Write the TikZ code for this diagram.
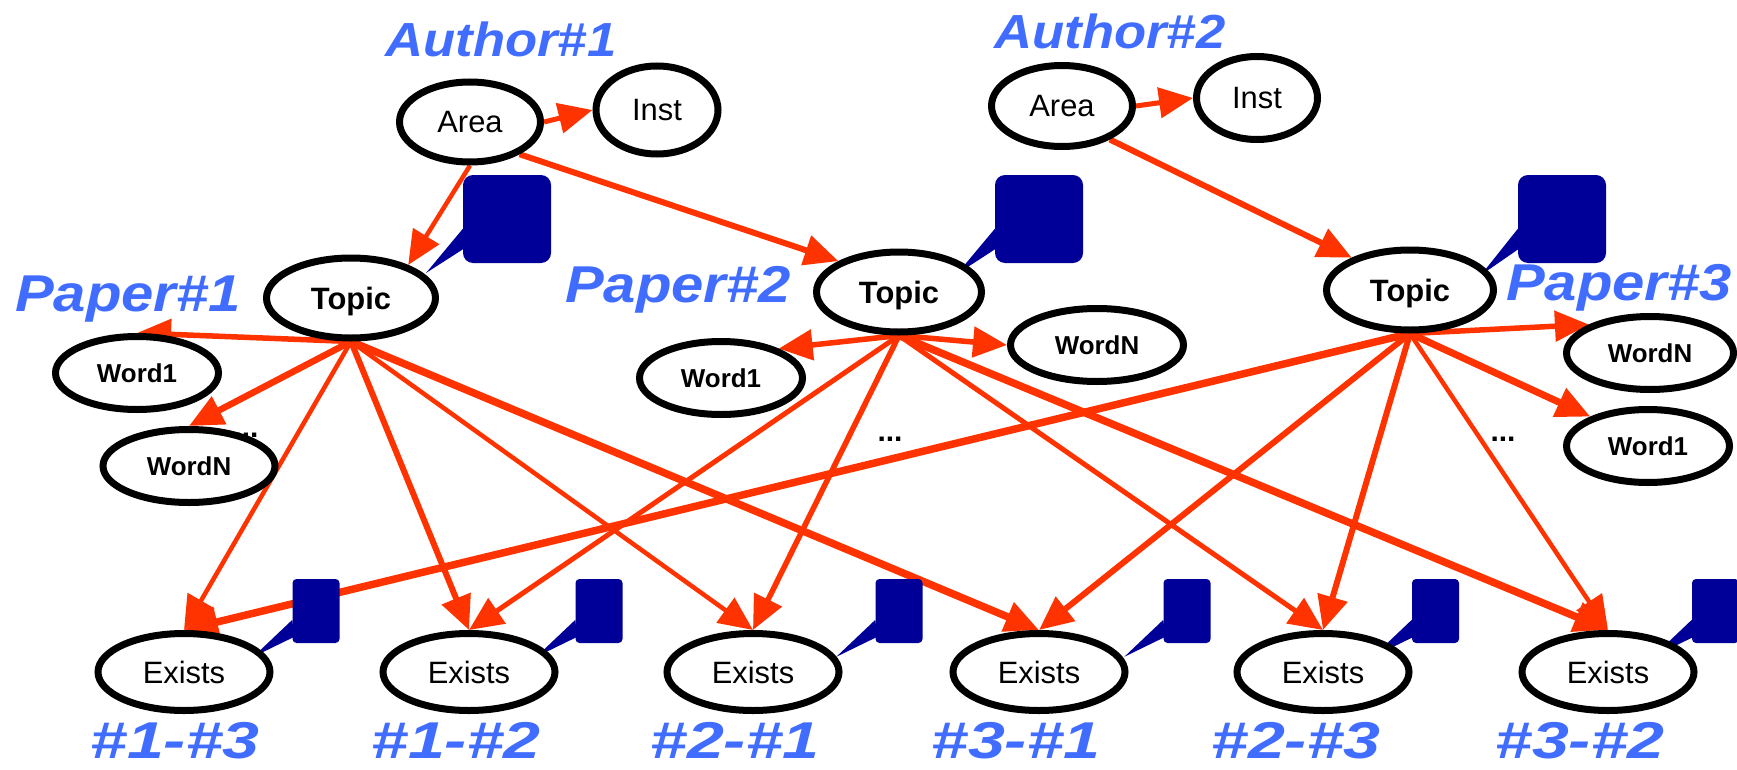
\documentclass[tikz,border=0pt]{standalone}
\usepackage{fontspec}
\setmainfont{Liberation Sans}
\usepackage{graphicx}
\usetikzlibrary{arrows.meta,shapes.geometric,calc}
\pgfdeclarelayer{bg}
\pgfdeclarelayer{mid}
\pgfsetlayers{bg,mid,main}
\definecolor{arr}{RGB}{255,51,0}
\definecolor{bx}{RGB}{0,0,153}
\definecolor{lbl}{RGB}{64,108,255}
\begin{document}
\begin{tikzpicture}[x=1bp,y=-1bp,
  ell/.style={ellipse, draw=black, line width=7bp, fill=white, inner sep=0pt, text depth=0pt},
  plainN/.style={ell, font=\fontsize{31}{31}\selectfont},
  topicN/.style={ell, font=\fontsize{31}{31}\selectfont\bfseries, minimum width=167bp, minimum height=80bp},
  wordN/.style={ell, font=\fontsize{26}{26}\selectfont\bfseries, minimum height=73bp},
  existsN/.style={plainN, minimum width=172bp, minimum height=77bp},
  authorL/.style={text=lbl, inner sep=0pt, anchor=base, font=\fontsize{48}{48}\selectfont\bfseries\itshape},
  paperL/.style={text=lbl, inner sep=0pt, anchor=base, font=\fontsize{52}{52}\selectfont\bfseries\itshape},
  pairL/.style={text=lbl, inner sep=0pt, anchor=base, font=\fontsize{52}{52}\selectfont\bfseries\itshape},
  dotsL/.style={inner sep=0pt, anchor=base, font=\fontsize{30}{30}\selectfont\bfseries},
  bigbox/.style={rectangle, fill=bx, minimum width=88bp, minimum height=88bp, rounded corners=10bp, inner sep=0pt},
  smallbox/.style={rectangle, fill=bx, minimum width=47bp, minimum height=64bp, rounded corners=4bp, inner sep=0pt},
  redarrow/.style={draw=arr, line width=#1, -{Triangle[length=34bp,width=30bp]}},
  redarrow/.default=5bp
]
\useasboundingbox (0,0) rectangle (1737,770);

% ---- nodes ----
\node[plainN, minimum width=141bp, minimum height=80bp] (a1) at (470,122) {Area};
\node[plainN, minimum width=122bp, minimum height=88bp] (i1) at (657,110) {Inst};
\node[plainN, minimum width=141bp, minimum height=81bp] (a2) at (1062,106) {Area};
\node[plainN, minimum width=121bp, minimum height=83bp] (i2) at (1257,98) {Inst};

\node[topicN, minimum width=169bp] (t1) at (351,298) {Topic};
\node[topicN, minimum width=165bp] (t2) at (899,292) {Topic};
\node[topicN] (t3) at (1410,290) {Topic};

\node[wordN, minimum width=163bp] (w1a) at (137,373) {Word1};
\node[wordN, minimum width=172bp] (wna) at (189,466) {WordN};
\node[wordN, minimum width=163bp] (w1b) at (721,378) {Word1};
\node[wordN, minimum width=173bp] (wnb) at (1097,345) {WordN};
\node[wordN, minimum width=167bp] (wnc) at (1650,353) {WordN};
\node[wordN, minimum width=163bp] (w1c) at (1648,446) {Word1};

\node[existsN] (e1) at (184,672) {Exists};
\node[existsN] (e2) at (469,672) {Exists};
\node[existsN] (e3) at (753,672) {Exists};
\node[existsN] (e4) at (1039,672) {Exists};
\node[existsN] (e5) at (1323,672) {Exists};
\node[existsN] (e6) at (1608,672) {Exists};

% ---- labels ----
\node[authorL] (la1) at (501,57) {\scalebox{1.1}[1]{Author\#1}};
\node[authorL] (la2) at (1110,49) {\scalebox{1.1}[1]{Author\#2}};
\node[paperL] (lp1) at (128,311) {\scalebox{1.12}[1]{Paper\#1}};
\node[paperL] (lp2) at (678,302) {\scalebox{1.12}[1]{Paper\#2}};
\node[paperL, anchor=base west] (lp3) at (1506,300) {\scalebox{1.12}[1]{Paper\#3}};

\node[pairL] (l13) at (175,758) {\scalebox{1.28}[1]{\#1-\#3}};
\node[pairL] (l12) at (456,758) {\scalebox{1.28}[1]{\#1-\#2}};
\node[pairL] (l21) at (735,758) {\scalebox{1.28}[1]{\#2-\#1}};
\node[pairL] (l31) at (1016,758) {\scalebox{1.28}[1]{\#3-\#1}};
\node[pairL] (l23) at (1296,758) {\scalebox{1.28}[1]{\#2-\#3}};
\node[pairL] (l32) at (1580,758) {\scalebox{1.28}[1]{\#3-\#2}};

\node[dotsL] (d2) at (890,441) {...};
\node[dotsL] (d3) at (1503,441) {...};

% ---- boxes and pointers ----
\begin{pgfonlayer}{mid}
\node[dotsL] (d1) at (246,437) {...};
\node[bigbox] (bb1) at (507,219) {};
\node[bigbox] (bb2) at (1039,219) {};
\node[bigbox] (bb3) at (1562,219) {};
\fill[bx] ($(bb1.north west)+(0,54)$) -- ($(bb1.north west)+(4,72)$) -- ($(t1.center)+(75,-25)$) -- cycle;
\fill[bx] ($(bb2.north west)+(0,54)$) -- ($(bb2.north west)+(4,72)$) -- ($(t2.center)+(58,-18)$) -- cycle;
\fill[bx] ($(bb3.north west)+(0,54)$) -- ($(bb3.north west)+(4,72)$) -- ($(t3.center)+(71,-15)$) -- cycle;

\node[smallbox] (sb1) at (316,611) {};
\node[smallbox] (sb2) at (599,611) {};
\node[smallbox] (sb3) at (899,611) {};
\node[smallbox] (sb4) at (1187,611) {};
\node[smallbox] (sb5) at (1435.5,611) {};
\node[smallbox] (sb6) at (1715.5,611) {};
\foreach \b in {sb1,sb2,sb3,sb4,sb5,sb6}{
  \fill[bx] ($(\b.north west)+(0,41)$) -- ($(\b.north west)+(2,58)$) -- ($(\b.north west)+(-39,78)$) -- cycle;
}
\end{pgfonlayer}

% ---- arrows ----
\begin{pgfonlayer}{bg}
\draw[redarrow=5bp] (a1.east) -- (i1.west);
\draw[redarrow=5bp] (a2.east) -- (i2.west);
\draw[redarrow=4.5bp] (a1.south) -- (t1.30);
\draw[redarrow=6bp] (a1.-33) -- (t2.153);
\draw[redarrow=6bp] (a2.-35) -- (t3.151);

\draw[redarrow=5.5bp] (t1.south) -- (w1a.north);
\draw[redarrow=6.5bp] (t1.south) -- (wna.north);
\draw[redarrow=4.5bp] (t1.south) -- (e1.north);
\draw[redarrow=6bp] (t1.south) -- (e2.north);
\draw[redarrow=4.5bp] (t1.south) -- (e3.north);
\draw[redarrow=7.5bp] (t1.south) -- (e4.north);

\draw[redarrow=5.5bp] (t2.south) -- (w1b.27);
\draw[redarrow=5.5bp] (t2.south) -- (wnb.west);
\draw[redarrow=5bp] (t2.south) -- (e2.north);
\draw[redarrow=5.5bp] (t2.south) -- (e3.north);
\draw[redarrow=5bp] (t2.south) -- (e5.north);
\draw[redarrow=7.5bp] (t2.south) -- (e6.north);

\draw[redarrow=5.5bp] (t3.south) -- (wnc.155);
\draw[redarrow=7bp] (t3.south) -- (w1c.153);
\draw[redarrow=7.5bp] (t3.south) -- (e1.north);
\draw[redarrow=6bp] (t3.south) -- (e4.north);
\draw[redarrow=6bp] (t3.south) -- (e5.north);
\draw[redarrow=4.5bp] (t3.south) -- (e6.north);
\end{pgfonlayer}
\end{tikzpicture}
\end{document}
